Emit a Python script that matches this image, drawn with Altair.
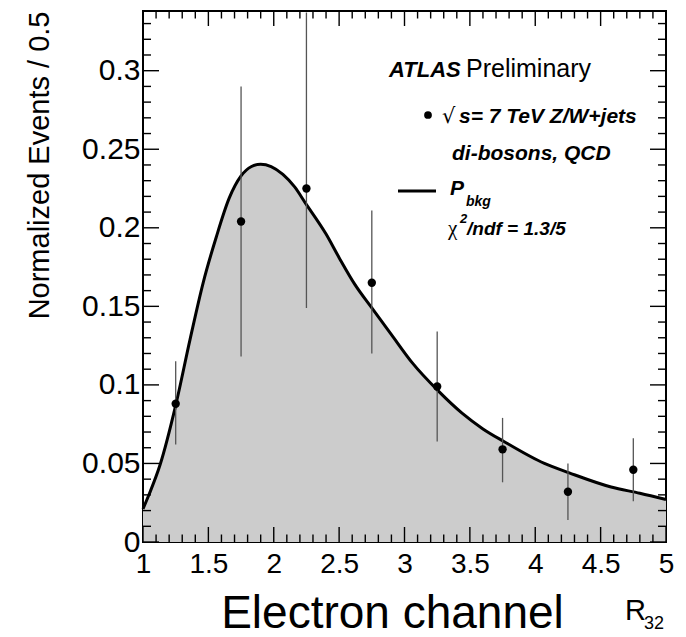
import altair as alt
import pandas as pd

# ---------------- data ----------------
bin_centers = [1.25, 1.75, 2.25, 2.75, 3.25, 3.75, 4.25, 4.75]
events = [0.088, 0.204, 0.225, 0.165, 0.099, 0.059, 0.032, 0.046]
err_low = [0.062, 0.118, 0.149, 0.120, 0.064, 0.038, 0.014, 0.026]
err_high = [0.115, 0.290, 0.337, 0.211, 0.134, 0.079, 0.050, 0.066]

curve_x = [1.00, 1.05, 1.13, 1.25, 1.36, 1.46, 1.56, 1.66, 1.75, 1.83, 1.90,
           1.98, 2.07, 2.16, 2.24, 2.40, 2.50, 2.62, 2.75, 2.90, 3.06, 3.26,
           3.44, 3.60, 3.76, 4.07, 4.26, 4.58, 4.80, 5.00]
curve_y = [0.021, 0.031, 0.049, 0.087, 0.129, 0.165, 0.194, 0.219, 0.233, 0.239, 0.2405,
           0.239, 0.234, 0.226, 0.216, 0.196, 0.181, 0.164, 0.149, 0.132, 0.114, 0.096,
           0.082, 0.072, 0.064, 0.050, 0.044, 0.035, 0.031, 0.027]

x_major = [1, 1.5, 2, 2.5, 3, 3.5, 4, 4.5, 5]
x_minor = [1.1, 1.2, 1.3, 1.4, 1.6, 1.7, 1.8, 1.9, 2.1, 2.2, 2.3, 2.4,
           2.6, 2.7, 2.8, 2.9, 3.1, 3.2, 3.3, 3.4, 3.6, 3.7, 3.8, 3.9,
           4.1, 4.2, 4.3, 4.4, 4.6, 4.7, 4.8, 4.9]
y_major = [0, 0.05, 0.1, 0.15, 0.2, 0.25, 0.3]
y_minor = [0.01, 0.02, 0.03, 0.04, 0.06, 0.07, 0.08, 0.09, 0.11, 0.12, 0.13, 0.14,
           0.16, 0.17, 0.18, 0.19, 0.21, 0.22, 0.23, 0.24, 0.26, 0.27, 0.28, 0.29,
           0.31, 0.32, 0.33]
x_domain = [1, 5]
y_domain = [0, 0.338]

x_title = "Electron channel"
y_title = "Normalized Events / 0.5"
var_main, var_sub = "R", "32"
atlas_bold, atlas_rest = "ATLAS", "Preliminary"
data_label_root, data_label = "\u221a", "s= 7 TeV Z/W+jets"
data_label2 = "di-bosons, QCD"
fit_label, fit_sub = "P", "bkg"
chi_sym, chi_sup, chi_rest = "\u03c7", "2", "/ndf = 1.3/5"

# ---------------- layout ----------------
W, H = 523, 531
FONT = "Liberation Sans"

pts = pd.DataFrame({"x": bin_centers, "y": events, "lo": err_low, "hi": err_high})
crv = pd.DataFrame({"x": curve_x, "y": curve_y})

xs = alt.Scale(domain=x_domain, nice=False, zero=False)
ys = alt.Scale(domain=y_domain, nice=False, zero=False)

x_label_axis = alt.Axis(
    orient="bottom", values=x_major, format="~g", ticks=False, tickSize=0,
    domain=False, grid=False, labelFont=FONT, labelFontSize=28, labelColor="black",
    labelPadding=8, labelFlush=False, labelOverlap=False,
    title=x_title, titleFont=FONT, titleFontSize=46, titleFontWeight="normal",
    titleColor="black", titleX=249, titleY=85, titleAlign="center",
    titleBaseline="alphabetic")
y_label_axis = alt.Axis(
    orient="left", values=y_major, format="~g", ticks=False, tickSize=0,
    domain=False, grid=False, labelFont=FONT, labelFontSize=30, labelColor="black",
    labelPadding=3, labelFlush=False, labelOverlap=False,
    title=y_title, titleFont=FONT, titleFontSize=29, titleFontWeight="normal",
    titleColor="black", titleX=-95, titleY=0, titleAlign="right",
    titleBaseline="alphabetic", titleAngle=270)

area = alt.Chart(crv).mark_area(color="#cccccc", interpolate="monotone").encode(
    x=alt.X("x:Q", scale=xs, axis=x_label_axis),
    y=alt.Y("y:Q", scale=ys, axis=y_label_axis))

line = alt.Chart(crv).mark_line(color="black", strokeWidth=3, interpolate="monotone").encode(
    x=alt.X("x:Q", scale=xs),
    y=alt.Y("y:Q", scale=ys))

bars = alt.Chart(pts).mark_rule(color="#555555", strokeWidth=1.3).encode(
    x=alt.X("x:Q", scale=xs),
    y=alt.Y("lo:Q", scale=ys),
    y2="hi:Q")

dots = alt.Chart(pts).mark_circle(color="black", size=70, opacity=1).encode(
    x=alt.X("x:Q", scale=xs),
    y=alt.Y("y:Q", scale=ys))


# inward-pointing ROOT-style ticks on all four sides, placed by the scales
def x_ticks(vals, length, at_bottom):
    y0 = H if at_bottom else 0
    y1 = H - length if at_bottom else length
    return alt.Chart(pd.DataFrame({"x": vals})).mark_rule(
        color="black", strokeWidth=1.4).encode(
        x=alt.X("x:Q", scale=xs), y=alt.value(y0), y2=alt.value(y1))


def y_ticks(vals, length, at_left):
    x0 = 0 if at_left else W
    x1 = length if at_left else W - length
    return alt.Chart(pd.DataFrame({"y": vals})).mark_rule(
        color="black", strokeWidth=1.4).encode(
        y=alt.Y("y:Q", scale=ys), x=alt.value(x0), x2=alt.value(x1))


ticks = [
    x_ticks(x_major, 15, True), x_ticks(x_minor, 7.5, True),
    x_ticks(x_major, 15, False), x_ticks(x_minor, 7.5, False),
    y_ticks(y_major, 16, True), y_ticks(y_minor, 8, True),
    y_ticks(y_major, 16, False), y_ticks(y_minor, 8, False),
]


def txt(s, x, y, size, style="normal", weight="normal", font=FONT):
    return alt.Chart(pd.DataFrame({"t": [s]})).mark_text(
        align="left", baseline="alphabetic", fontSize=size, fontStyle=style,
        fontWeight=weight, font=font, color="black").encode(
        x=alt.value(x), y=alt.value(y), text="t:N")


texts = [
    txt(atlas_bold, 246, 66, 22, "italic", "bold"),
    txt(atlas_rest, 323, 66, 25),
    txt(data_label_root, 299, 112, 21, font="DejaVu Sans"),
    txt(data_label, 316, 112, 21, "italic", "bold"),
    txt(data_label2, 309, 149, 21, "italic", "bold"),
    txt(fit_label, 307, 184, 21, "italic", "bold"),
    txt(fit_sub, 323, 195, 14, "italic", "bold"),
    txt(chi_sym, 305, 224, 21, font="Liberation Serif"),
    txt(chi_sup, 317, 212, 13, "italic", "bold"),
    txt(chi_rest, 324, 224, 19, "italic", "bold"),
    txt(var_main, 482, 609, 29),
    txt(var_sub, 501, 618, 18),
]

one = pd.DataFrame({"a": [0]})
leg_dot = alt.Chart(one).mark_circle(color="black", size=60, opacity=1).encode(
    x=alt.value(285), y=alt.value(104))
leg_line = alt.Chart(one).mark_rule(color="black", strokeWidth=3).encode(
    x=alt.value(255), x2=alt.value(293), y=alt.value(180))

chart = alt.layer(area, line, bars, dots, *ticks, leg_dot, leg_line, *texts).properties(
    width=W, height=H, autosize="none",
    padding={"left": 143, "top": 11, "right": 20, "bottom": 95},
    background="white").configure_view(
    stroke="black", strokeWidth=2).configure_axis(
    grid=False, ticks=False, domain=False)

chart.save("out.html", embed_options={"renderer": "svg", "actions": False})
